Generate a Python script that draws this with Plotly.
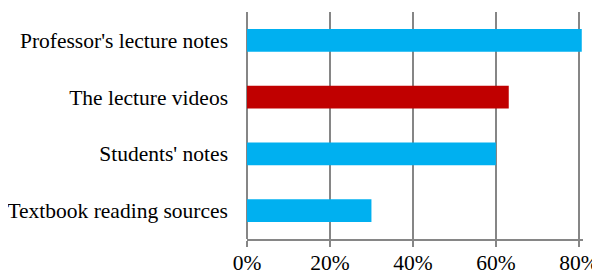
import plotly.graph_objects as go

categories = ["Professor's lecture notes", "The lecture videos", "Students' notes", "Textbook reading sources"]
values = [0.807, 0.631, 0.60, 0.30]
colors = ["#00B0F0", "#C00000", "#00B0F0", "#00B0F0"]
x_ticks = [0, 0.2, 0.4, 0.6, 0.8]
x_tick_labels = ["0%", "20%", "40%", "60%", "80%"]

fig = go.Figure(go.Bar(
    x=values, y=categories, orientation="h",
    marker=dict(color=colors, line=dict(width=0)),
    width=0.4, cliponaxis=False,
))

font = dict(family="Liberation Serif", size=21.5, color="#000000")
# page body has an 8px default margin, so the figure is sized to fit the 600x274 window
fig.update_layout(
    width=592, height=266,
    margin=dict(l=239, r=17, t=4, b=35, autoexpand=False),
    plot_bgcolor="white", paper_bgcolor="white",
    font=font, showlegend=False,
    bargap=0.6,
)
fig.update_xaxes(
    range=[0, 0.81], tickvals=x_ticks, ticktext=x_tick_labels,
    showgrid=True, gridcolor="#868686", gridwidth=1.5,
    zeroline=True, zerolinecolor="#868686", zerolinewidth=1.5,
    showline=True, linecolor="#868686", linewidth=1.5,
    ticks="outside", ticklen=6, tickcolor="#868686", tickwidth=1.5,
    tickfont=font, automargin=False, ticklabelstandoff=-3,
)
fig.update_yaxes(
    categoryorder="array", categoryarray=categories, autorange="reversed",
    showgrid=False, zeroline=False, showline=False, ticks="",
    ticklabelstandoff=18, tickfont=font, automargin=False,
)
fig.write_html("out.html")
